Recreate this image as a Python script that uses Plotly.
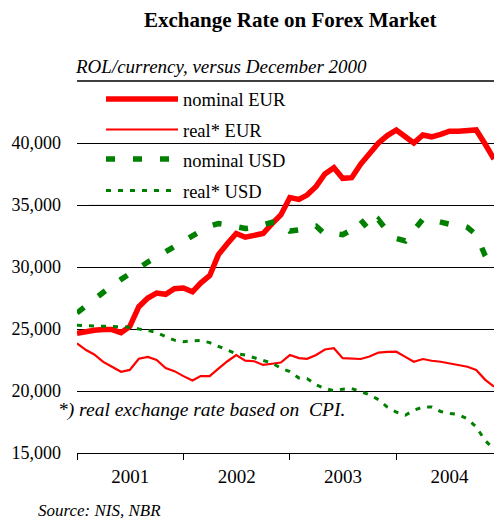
import pandas as pd
import plotly.graph_objects as go

# ---- data (monthly, Jan 2001 - Dec 2004) ----
months = pd.date_range("2001-01-01", periods=48, freq="MS")

nominal_eur = [24650, 24800, 24900, 24950, 24950, 24700, 25200, 26800, 27500, 27900, 27800, 28250,
               28300, 28000, 28700, 29300, 31000, 31900, 32700, 32400, 32500, 32700, 33500, 34200,
               35600, 35450, 35800, 36500, 37500, 38000, 37150, 37200, 38300, 39200, 40000, 40600,
               41050, 40500, 40000, 40650, 40500, 40700, 40950, 40950, 41050, 41050, 39900, 38700]

real_eur = [23850, 23300, 22950, 22350, 21950, 21550, 21700, 22600, 22750, 22500, 21850, 21600,
            21200, 20850, 21200, 21200, 21800, 22400, 22900, 22450, 22400, 22100, 22200, 22300,
            22900, 22650, 22600, 22900, 23350, 23450, 22650, 22600, 22580, 22780, 23100, 23150,
            23170, 22750, 22360, 22580, 22440, 22360, 22230, 22100, 21960, 21690, 20900, 20350]

nominal_usd = [26300, 26900, 27450, 28000, 28500, 29000, 29500, 29950, 30400, 30800, 31250, 31700,
               32100, 32500, 32900, 33300, 33500, 33400, 33200, 33100, 33200, 33400, 33600, 33550,
               32900, 33000, 33200, 33300, 32650, 32700, 32600, 33000, 33800, 32950, 33800, 32900,
               32300, 32100, 33000, 33850, 33800, 33600, 33450, 33450, 33200, 32600, 30900, 29700]

real_usd = [25300, 25250, 25250, 25220, 25200, 25180, 25150, 25000, 24900, 24700, 24400, 24100,
            23980, 24050, 24080, 23900, 23600, 23300, 23000, 22900, 22700, 22500, 22250, 21850,
            21560, 21050, 21000, 20500, 20200, 20030, 20150, 20200, 19960, 19700, 19300, 18700,
            18300, 18050, 18450, 18700, 18700, 18350, 18200, 18100, 17750, 17100, 16000, 15300]

series_names = ["nominal EUR", "real* EUR", "nominal USD", "real* USD"]
y_ticks = [15000, 20000, 25000, 30000, 35000, 40000]

RED = "#ff0000"
GREEN = "#008000"
FONT = "Liberation Serif"

styles = [
    dict(color=RED, width=5.5, dash="solid"),
    dict(color=RED, width=2.2, dash="solid"),
    dict(color=GREEN, width=5.5, dash="9px,18px"),
    dict(color=GREEN, width=3, dash="5px,7px"),
]

W, H = 494, 522
L, R, T, B = 77, 0, 81, 69
PW, PH = W - L - R, H - T - B


def px_x(p):
    return (p - L) / PW


def px_y(p):
    return (H - B - p) / PH


fig = go.Figure()
for name, vals, st in zip(series_names, [nominal_eur, real_eur, nominal_usd, real_usd], styles):
    fig.add_trace(go.Scatter(x=months, y=vals, mode="lines", name=name, line=st,
                             showlegend=False, hoverinfo="skip"))

shapes = []
# legend background box (covers gridlines, under traces)
shapes.append(dict(type="rect", xref="paper", yref="paper", x0=px_x(89), x1=px_x(303),
                   y0=px_y(207), y1=px_y(84), fillcolor="white", line=dict(width=0), layer="between"))
shapes.append(dict(type="line", xref="paper", yref="paper", x0=px_x(89), x1=px_x(303),
                   y0=px_y(205), y1=px_y(205), line=dict(color="#d4d4d4", width=1), layer="between"))
# top rule
shapes.append(dict(type="line", xref="paper", yref="paper", x0=0, x1=1, y0=1, y1=1,
                   line=dict(color="black", width=1.5), layer="between"))

annotations = []
leg_y = [99, 129.5, 159, 190.5]
for name, st, ly in zip(series_names, styles, leg_y):
    shapes.append(dict(type="line", xref="paper", yref="paper", x0=px_x(106), x1=px_x(178),
                       y0=px_y(ly), y1=px_y(ly),
                       line=dict(color=st["color"], width=st["width"], dash=st["dash"]), layer="above"))
    annotations.append(dict(text=name, xref="paper", yref="paper", x=px_x(180.5), y=px_y(ly + 1.5),
                            xanchor="left", yanchor="middle", showarrow=False,
                            font=dict(family=FONT, size=18.5, color="black")))

annotations += [
    dict(text="<b>Exchange Rate on Forex Market</b>", xref="paper", yref="paper",
         x=px_x(290), y=px_y(20), xanchor="center", yanchor="middle", showarrow=False,
         font=dict(family=FONT, size=21, color="black")),
    dict(text="<i>ROL/currency, versus December 2000</i>", xref="paper", yref="paper",
         x=px_x(73), y=px_y(66), xanchor="left", yanchor="middle", showarrow=False,
         font=dict(family=FONT, size=19, color="black")),
    dict(text="<i>*) real exchange rate based on\u00a0 CPI.</i>", xref="paper", yref="paper",
         x=px_x(56), y=px_y(410), xanchor="left", yanchor="middle", showarrow=False,
         font=dict(family=FONT, size=19.5, color="black")),
    dict(text="<i>Source: NIS, NBR</i>", xref="paper", yref="paper",
         x=px_x(36), y=px_y(510), xanchor="left", yanchor="middle", showarrow=False,
         font=dict(family=FONT, size=17, color="black")),
]

fig.update_layout(
    width=W, height=H, autosize=False,
    margin=dict(l=L, r=R, t=T, b=B, pad=0),
    paper_bgcolor="white", plot_bgcolor="white",
    shapes=shapes, annotations=annotations,
    showlegend=False,
    font=dict(family=FONT, size=18, color="black"),
    xaxis=dict(type="date", range=[months[0], months[-1]], tick0=months[0], dtick="M12",
               ticklabelmode="period", tickformat="%Y", ticks="outside", ticklen=6,
               tickcolor="black", tickwidth=1, showline=True, linecolor="black", linewidth=1,
               showgrid=False, zeroline=False, tickfont=dict(family=FONT, size=19)),
    yaxis=dict(range=[15000, 45000], tickvals=y_ticks, tickformat=",d", ticks="",
               ticklabelstandoff=15, showgrid=True, gridcolor="black", gridwidth=1,
               zeroline=False, showline=False, tickfont=dict(family=FONT, size=18)),
)

fig.write_html("out.html", config={"displayModeBar": False},
               post_script="document.body.style.margin='0';document.body.style.overflow='hidden';")
